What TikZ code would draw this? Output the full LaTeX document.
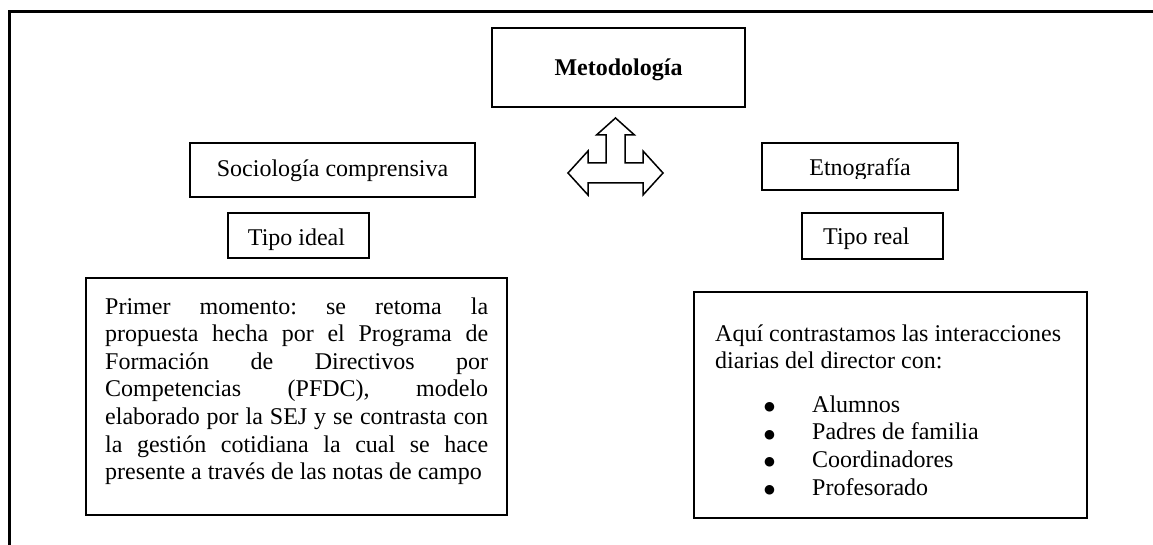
\documentclass[tikz,border=0pt]{standalone}
\usepackage{fontspec}
\setmainfont{Liberation Serif}
\newfontfamily\dejavu{DejaVu Sans}
\newcommand{\bigbul}{\raisebox{1.5pt}{\dejavu\fontsize{12.5}{12.5}\selectfont ●}}
\begin{document}
\frenchspacing
\begin{tikzpicture}[x=1pt,y=-1pt,
  box/.style={draw, inner sep=0pt, line width=1.4pt},
  txt/.style={inner sep=0pt, font=\fontsize{24}{27.6}\selectfont}]
\useasboundingbox (0,0) rectangle (1153,545);
% outer frame (only top and left visible)
\draw[line width=3pt] (9,545) -- (9,12) -- (1153,12);

% boxes
\node[box, line width=2.2pt, minimum width=253pt, minimum height=79pt] (met) at (618.5,67.5) {};
\node[box, line width=1.6pt, minimum width=285pt, minimum height=54pt] (soc) at (332.5,170) {};
\node[box, line width=1.3pt, minimum width=141pt, minimum height=45pt] (tid) at (298.5,235.5) {};
\node[box, line width=1.6pt, minimum width=196pt, minimum height=47pt] (etn) at (860,166.5) {};
\node[box, line width=1.3pt, minimum width=141pt, minimum height=46pt] (tre) at (872.5,236) {};
\node[box, line width=2pt, minimum width=421pt, minimum height=237pt] (lbox) at (296.5,396.5) {};
\node[box, line width=1.8pt, minimum width=393pt, minimum height=226pt] (rbox) at (890.5,405) {};

% texts
\node[txt, anchor=base] (metT) at (618.5,76) {\textbf{Metodología}};
\node[txt, anchor=base] (socT) at (332.5,177) {Sociología comprensiva};
\node[txt, anchor=base] (tidT) at (296.5,246) {Tipo ideal};
\begin{scope}
  \clip (762,143) rectangle (958,179);
  \node[txt, anchor=base] (etnT) at (860,176) {Etnografía};
\end{scope}
\node[txt, anchor=base west] (treT) at (823,245) {Tipo real};

\node[txt, anchor=base west] (ltext) at (105,314) {\parbox[t]{383pt}{%
\makebox[383pt][s]{Primer momento: se retoma la}\\
\makebox[383pt][s]{propuesta hecha por el Programa de}\\
\makebox[383pt][s]{Formación de Directivos por}\\
\makebox[383pt][s]{Competencias (PFDC), modelo}\\
\makebox[383pt][s]{elaborado por la SEJ y se contrasta con}\\
\makebox[383pt][s]{la gestión cotidiana la cual se hace}\\
presente a través de las notas de campo}};

\node[txt, anchor=base west] (rtext) at (715,341) {\parbox[t]{360pt}{%
Aquí contrastamos las interacciones\\
diarias del director con:\\[16pt]
\hspace*{49pt}\makebox[48pt][l]{\bigbul}Alumnos\\
\hspace*{49pt}\makebox[48pt][l]{\bigbul}Padres de familia\\
\hspace*{49pt}\makebox[48pt][l]{\bigbul}Coordinadores\\
\hspace*{49pt}\makebox[48pt][l]{\bigbul}Profesorado}};

% three-way arrow shape
\draw[line width=1.5pt, line join=miter]
  (615.5,118) -- (634.5,135) -- (625,135) -- (625,163) -- (643,163) -- (643,151)
  -- (663,173) -- (643,195) -- (643,183) -- (588,183) -- (588,195) -- (568,173)
  -- (588,151) -- (588,163) -- (606,163) -- (606,135) -- (596.5,135) -- cycle;
\end{tikzpicture}
\end{document}
